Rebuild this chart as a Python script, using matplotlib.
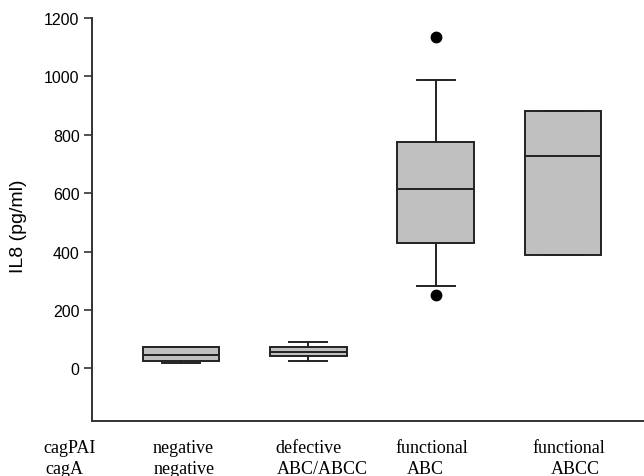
import matplotlib.pyplot as plt

groups = ['negative', 'defective', 'functional', 'functional']
cag_a = ['negative', 'ABC/ABCC', 'ABC', 'ABCC']
medians = [45, 56, 615, 726]
q1 = [27, 42, 431, 388]
q3 = [72, 73, 777, 880]
whis_lo = [17, 27, 282, 388]
whis_hi = [75, 90, 988, 880]
outliers = [[], [], [1134, 253], []]

stats = []
for i in range(len(groups)):
    stats.append(dict(med=medians[i], q1=q1[i], q3=q3[i],
                      whislo=whis_lo[i], whishi=whis_hi[i],
                      fliers=outliers[i], label=groups[i]))

fig = plt.figure(figsize=(6.44, 4.77), dpi=100)
ax = fig.add_axes([92/644, 1 - 422/477, 1 - 92/644, (422 - 19)/477])

edge = '#222222'
ax.bxp(stats, positions=[1, 2, 3, 4], widths=0.6, patch_artist=True,
       boxprops=dict(facecolor='#c0c0c0', edgecolor=edge, linewidth=1.4),
       medianprops=dict(color=edge, linewidth=1.4),
       whiskerprops=dict(color=edge, linewidth=1.4),
       capprops=dict(color=edge, linewidth=1.4),
       capwidths=0.3,
       flierprops=dict(marker='o', markerfacecolor='black',
                       markeredgecolor='black', markersize=7.5))

ax.set_xlim(0.302, 4.635)
ax.set_ylim(-180, 1200)
ax.set_yticks([0, 200, 400, 600, 800, 1000, 1200])
ax.set_xticks([])
ax.spines['top'].set_visible(False)
ax.spines['right'].set_visible(False)
for s in ['left', 'bottom']:
    ax.spines[s].set_linewidth(1.4)
    ax.spines[s].set_color('#333333')
ax.tick_params(axis='y', direction='out', length=6, width=1.2, pad=3,
               labelsize=11.5, colors='#333333', labelcolor='black')
for t in ax.get_yticklabels():
    t.set_family('Liberation Sans')
ax.set_ylabel('IL8 (pg/ml)', fontsize=14, family='Liberation Sans')
ax.yaxis.set_label_coords(-0.118, 0.486)

# row labels below the axis
serif = dict(family='Liberation Serif', fontsize=13, va='baseline')
fig.text(70/644, 1 - 453/477, 'cagPAI', ha='center', **serif)
fig.text(64/644, 1 - 474/477, 'cagA', ha='center', **serif)
row1_x = [183, 308, 432, 569]
row2_x = [184, 322, 425, 575]
for i in range(len(groups)):
    fig.text(row1_x[i]/644, 1 - 453/477, groups[i], ha='center', **serif)
    fig.text(row2_x[i]/644, 1 - 474/477, cag_a[i], ha='center', **serif)

fig.savefig('out.png', dpi=100)
